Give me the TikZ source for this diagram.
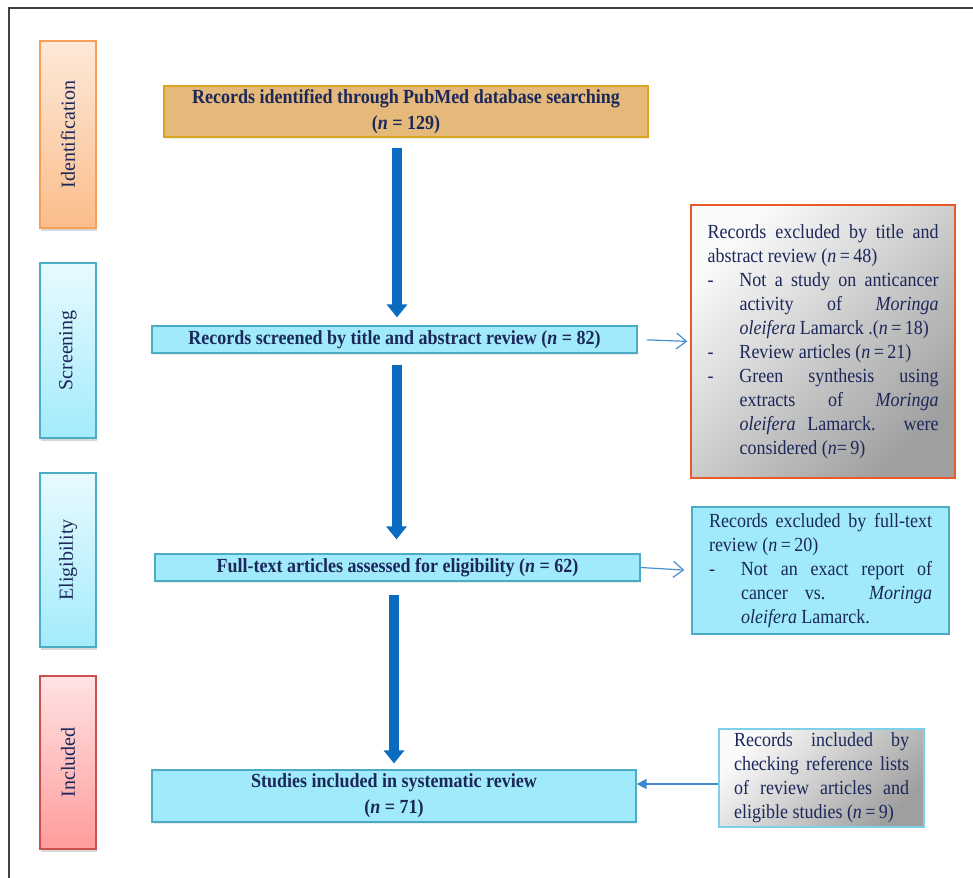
\documentclass[tikz,border=0pt]{standalone}
\usepackage{graphicx}
\usepackage{fontspec}
\setmainfont{Liberation Serif}[FakeStretch=0.9]
\newfontfamily\labelfont{Liberation Serif}
\usetikzlibrary{positioning}
\usetikzlibrary{arrows.meta,shadows}

\definecolor{ink}{HTML}{1C275A}
\definecolor{tanfill}{HTML}{E4B97A}
\definecolor{tanline}{HTML}{D9A520}
\definecolor{cyanfill}{HTML}{A0EAFB}
\definecolor{cyanline}{HTML}{4BACC6}
\definecolor{cyantop}{HTML}{E8FAFE}
\definecolor{cyanbot}{HTML}{A3EBFC}
\definecolor{orangeline}{HTML}{F7A05A}
\definecolor{orangetop}{HTML}{FDE9D9}
\definecolor{orangebot}{HTML}{FBBD8A}
\definecolor{redline}{HTML}{C9514E}
\definecolor{redtop}{HTML}{FFE3E3}
\definecolor{redbot}{HTML}{FF9C9C}
\definecolor{noteline}{HTML}{E85A2C}
\definecolor{paleline}{HTML}{7AD1E8}
\definecolor{arrowblue}{HTML}{0A6CC0}
\definecolor{linkblue}{HTML}{4A8FD2}
\definecolor{framegray}{HTML}{404040}

\newcommand{\dashitem}{\par\noindent\hangindent=32pt\hangafter=1\makebox[32pt][l]{-}}

\begin{document}
\begin{tikzpicture}[x=1pt,y=-1pt,
  sidebox/.style={draw, line width=1.4pt, minimum width=56pt, inner sep=0pt,
    text=ink, font=\labelfont\fontsize{20}{24}\selectfont,
    drop shadow={shadow xshift=1pt, shadow yshift=-3pt, opacity=.3}},
  mainbox/.style={draw=cyanline, fill=cyanfill, line width=1.2pt, inner sep=0pt,
    minimum width=485pt, minimum height=27pt, text=ink, align=center,
    font=\bfseries\fontsize{20}{26}\selectfont,
    drop shadow={shadow xshift=1pt, shadow yshift=-2pt, opacity=.15}},
  notebox/.style={line width=1.4pt, inner sep=0pt, text=ink, align=justify,
    font=\fontsize{20}{24}\selectfont},
  bigarrow/.style={draw=arrowblue, line width=10pt, -{Triangle[width=20pt,length=13pt]}},
  thinarrow/.style={draw=linkblue, line width=1.2pt, -{Straight Barb[length=10pt,width=16pt]}}]
\useasboundingbox (0,0) rectangle (973,877);
\fill[white] (0,0) rectangle (973,877);
\draw[framegray, line width=1.5pt] (9,890) -- (9,8) -- (990,8);

% phase labels
\node[sidebox, draw=orangeline, top color=orangetop, bottom color=orangebot,
  minimum height=187pt] (ident) at (68,134.5) {\rotatebox{90}{Identification}};
\node[sidebox, draw=cyanline, top color=cyantop, bottom color=cyanbot,
  minimum height=175pt] (screen) at (68,350.5) {\rotatebox{90}{Screening}};
\node[sidebox, draw=cyanline, top color=cyantop, bottom color=cyanbot,
  minimum height=174pt] (elig) at (68,560) {\rotatebox{90}{Eligibility}};
\node[sidebox, draw=redline, top color=redtop, bottom color=redbot,
  minimum height=173pt] (incl) at (68,762.5) {\rotatebox{90}{Included}};

% main flow
\node[mainbox, draw=tanline, fill=tanfill, minimum width=484pt, minimum height=51pt] (recs) at (406,111.5)
  {Records identified through PubMed database searching\\(\textbf{\textit{n}} = 129)};
\node[mainbox] (scr) at (394.5,339.5) {Records screened by title and abstract review (\textbf{\textit{n}} = 82)};
\node[mainbox] (full) at (397.5,567.5) {Full-text articles assessed for eligibility (\textbf{\textit{n}} = 62)};
\node[mainbox, minimum width=484pt, minimum height=52pt] (stud) at (394,796)
  {Studies included in systematic review\\(\textbf{\textit{n}} = 71)};

% side notes
\node[notebox, draw=noteline, top color=white!96!gray, bottom color=gray!75, shading angle=45,
  minimum width=264pt, minimum height=273pt, text width=231pt] (excla) at (823,341.5)
  {Records excluded by title and\linebreak abstract review (\textit{n}\,=\,48)%
   \dashitem Not a study on anticancer\linebreak activity of \textit{Moringa}\linebreak
   \textit{oleifera} Lamarck .(\textit{n}\,=\,18)%
   \dashitem Review articles (\textit{n}\,=\,21)%
   \dashitem Green synthesis using\linebreak extracts of \textit{Moringa}\linebreak
   \textit{oleifera} Lamarck. were\linebreak considered (\textit{n}=\,9)\par};
\node[notebox, draw=cyanline, fill=cyanfill, minimum width=257pt, minimum height=127pt,
  text width=223pt] (exclb) at (820.5,570.5)
  {Records excluded by full-text\linebreak review (\textit{n}\,=\,20)%
   \dashitem Not an exact report of\linebreak cancer vs. \textit{Moringa}\linebreak
   \textit{oleifera} Lamarck.\par};
\node[notebox, draw=paleline, top color=white!96!gray, bottom color=gray!75, shading angle=45,
  minimum width=205pt, minimum height=98pt, text width=175pt] (incref) at (821.5,778)
  {Records included by\linebreak checking reference lists\linebreak of review articles and\linebreak
   eligible studies (\textit{n}\,=\,9)\par};

% arrows
\draw[bigarrow, shorten <=10pt, shorten >=8pt] ([xshift=-9pt]recs.south) -- ([xshift=-9pt]recs.south |- scr.north);
\draw[bigarrow, shorten <=11pt, shorten >=14pt] ([xshift=2pt]scr.south) -- ([xshift=2pt]scr.south |- full.north);
\draw[bigarrow, shorten <=13pt, shorten >=6pt] ([xshift=-3.5pt]full.south) -- ([xshift=-3.5pt]full.south |- stud.north);

\draw[thinarrow, shorten <=9pt, shorten >=3pt] (scr.east) -- (excla.west);
\draw[thinarrow, shorten >=7pt] (full.east) -- (exclb.west);
\draw[draw=linkblue!80!arrowblue, line width=1.3pt, -{Triangle[length=10pt,width=10pt]}]
  ([yshift=-6pt]incref.west) -- ([yshift=-6pt]incref.west -| stud.east);
\end{tikzpicture}
\end{document}
